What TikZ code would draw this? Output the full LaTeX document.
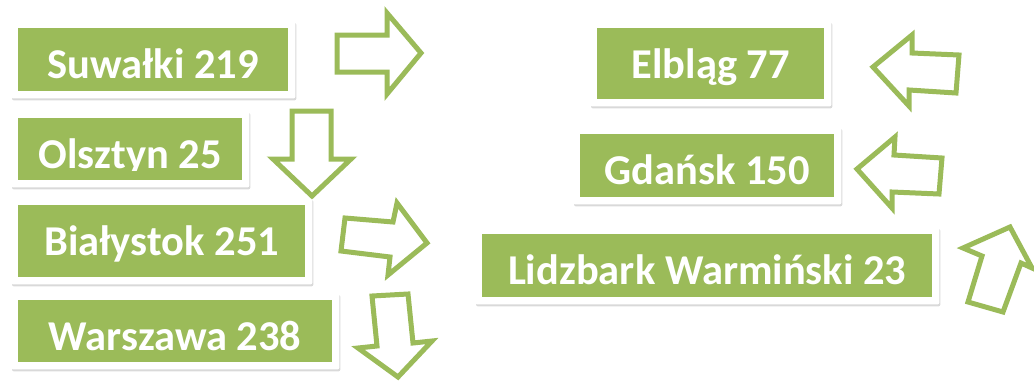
\documentclass[tikz,border=0pt]{standalone}
\usepackage{fontspec}
\setmainfont{Carlito}
\usetikzlibrary{fit, backgrounds, shadows}
\definecolor{leaf}{HTML}{9BBB59}
\begin{document}
\begin{tikzpicture}[x=1pt, y=-1pt,
  plate/.style={fill=leaf, text=white, anchor=north west, inner sep=0pt, text height=50pt, font=\bfseries\fontsize{42.5}{50}\selectfont},
  frame/.style={fill=white, rounded corners=2pt, inner sep=7pt, drop shadow={opacity=0.3, shadow xshift=1pt, shadow yshift=-2pt}},
  block/.style={draw=leaf, fill=white, line width=5pt, line join=miter}]
\useasboundingbox (0,0) rectangle (1034,383);
% left column
\node[plate, minimum width=270, text depth=13] (suw) at (18,28) {Suwałki 219};
\node[plate, minimum width=224, text depth=12] (ols) at (18,118) {};
\begin{scope}
\clip (ols.north west) rectangle (242,170);
\node[plate, fill=none, minimum width=224, text depth=12] (olstext) at (ols.north west) {Olsztyn 25};
\end{scope}
\node[plate, minimum width=287, text depth=22] (bia) at (18,205) {Białystok 251};
\node[plate, minimum width=314, text depth=12] (war) at (18,300) {Warszawa 238};
% right column
\node[plate, minimum width=227, text depth=21] (elb) at (597,28) {Elbląg 77};
\node[plate, minimum width=254, text depth=13] (gda) at (580,134) {Gdańsk 150};
\node[plate, minimum width=450, text depth=13] (lid) at (482,234) {Lidzbark Warmiński 23};
\begin{scope}[on background layer]
\foreach \n in {suw, ols, bia, war, elb, gda, lid}
  \node[frame, fit=(\n)] (\n frame) {};
\end{scope}
% arrows
\draw[block] (337,35) -- (387,35) -- (387,13) -- (421,53) -- (387,94) -- (387,72) -- (337,72) -- cycle;
\draw[block] (292,111) -- (331,111) -- (331,159) -- (351,159) -- (312,196) -- (273,159) -- (292,159) -- cycle;
\draw[block] (345,218) -- (393,222) -- (397,203) -- (427,243) -- (388,275) -- (390,257) -- (341,251) -- cycle;
\draw[block] (372,296) -- (408,294) -- (413,343) -- (432,341) -- (398,377) -- (358,348) -- (377,346) -- cycle;
\draw[block] (873,67) -- (912,35) -- (912,53) -- (959,55) -- (956,93) -- (909,90) -- (909,106) -- cycle;
\draw[block] (857,169) -- (895,137) -- (894,155) -- (942,158) -- (939,194) -- (892,192) -- (892,208) -- cycle;
\draw[block] (1010,227) -- (963,248) -- (982,256) -- (968,302) -- (1003,312) -- (1021,263) -- (1032,268) -- cycle;
\end{tikzpicture}
\end{document}
